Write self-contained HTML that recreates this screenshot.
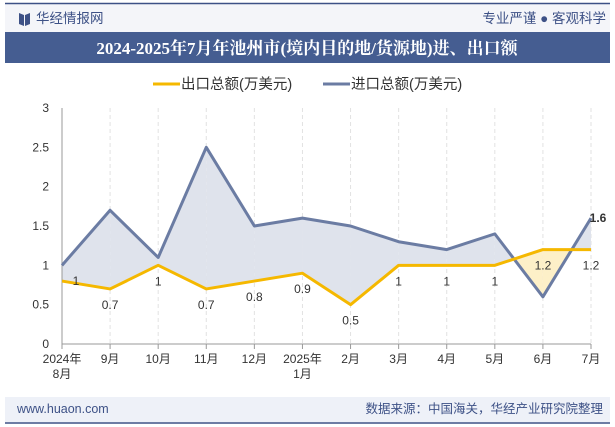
<!DOCTYPE html>
<html><head><meta charset="utf-8"><style>
body{margin:0;width:615px;height:427px;overflow:hidden;background:#fff;font-family:"Liberation Sans","Noto Sans CJK SC",sans-serif;}
</style></head><body>
<svg id="c" width="615" height="427" xmlns="http://www.w3.org/2000/svg" style="position:absolute;left:0;top:0">
<rect x="0" y="0" width="615" height="427" fill="#fff"/>
<rect x="5" y="4" width="605" height="28" fill="#f4f5f9"/>
<line x1="5" y1="3.5" x2="610" y2="3.5" stroke="#3d5186" stroke-width="1.5"/>
<g><polygon points="19,13 24,15 24,26 19,24" fill="#3d5186"/><polygon points="25,15 30,13 30,24 25,26" fill="#3d5186"/></g>
<text x="36" y="23" font-size="13.5" fill="#3d5186">华经情报网</text>
<text x="606" y="23" font-size="13.5" fill="#3d5186" text-anchor="end">专业严谨 ● 客观科学</text>
<rect x="5" y="32" width="605" height="31" fill="#455d91"/>
<text x="307" y="54" font-size="17" font-weight="bold" fill="#fff" text-anchor="middle" font-family="'Liberation Serif','Noto Serif CJK SC',serif">2024-2025年7月年池州市(境内目的地/货源地)进、出口额</text>
<g>
<line x1="153" y1="84" x2="180" y2="84" stroke="#f5b800" stroke-width="3"/>
<text x="181" y="89" font-size="14.5" fill="#333">出口总额(万美元)</text>
<line x1="323" y1="84" x2="350" y2="84" stroke="#6b7ca3" stroke-width="3"/>
<text x="351" y="89" font-size="14.5" fill="#333">进口总额(万美元)</text>
</g>
<g id="plot"></g>
<rect x="5" y="397" width="605" height="25" fill="#eef1f8"/>
<line x1="5" y1="423" x2="610" y2="423" stroke="#3d5186" stroke-width="1.5"/>
<text x="17" y="413" font-size="12.5" fill="#3d5186">www.huaon.com</text>
<text x="603" y="413" font-size="12.5" fill="#3d5186" text-anchor="end">数据来源：中国海关，华经产业研究院整理</text>
</svg>
<script>
const categories=["2024年\n8月","9月","10月","11月","12月","2025年\n1月","2月","3月","4月","5月","6月","7月"];
const exportVals=[0.8,0.7,1,0.7,0.8,0.9,0.5,1,1,1,1.2,1.2];
const importVals=[1,1.7,1.1,2.5,1.5,1.6,1.5,1.3,1.2,1.4,0.6,1.6];
const exportLabels=["1","0.7","1","0.7","0.8","0.9","0.5","1","1","1","1.2","1.2"];
const yTicks=[0,0.5,1,1.5,2,2.5,3];
const NS="http://www.w3.org/2000/svg";
const g=document.getElementById('plot');
const X0=62,X1=591,Y0=344,Y3=108;
const xs=i=>X0+(X1-X0)*i/(categories.length-1);
const ys=v=>Y0-(Y0-Y3)*v/3;
function mk(t,a){const e=document.createElementNS(NS,t);for(const k in a)e.setAttribute(k,a[k]);g.appendChild(e);return e;}
yTicks.forEach(t=>{const e=mk('text',{x:49,y:ys(t)+4,'font-size':12,fill:'#333','text-anchor':'end'});e.textContent=t;

});
categories.forEach((c,i)=>{const l=mk('line',{x1:xs(i),y1:Y3,x2:xs(i),y2:Y0,stroke:'#e2e2e2','stroke-dasharray':'4,3'});


const tk=mk('line',{x1:xs(i),y1:Y0,x2:xs(i),y2:Y0+5,stroke:'#999'});


c.split('\n').forEach((p,j)=>{const e=mk('text',{x:xs(i),y:Y0+19+j*15,'font-size':12,fill:'#333','text-anchor':'middle'});e.textContent=p;

});});
for(let i=0;i<categories.length-1;i++){
 const a1=exportVals[i],a2=exportVals[i+1],b1=importVals[i],b2=importVals[i+1];
 const d1=b1-a1,d2=b2-a2;
 const seg=(xa,xb,ea,eb,ia,ib,col)=>{const p=mk('polygon',{points:`${xa},${ys(ia)} ${xb},${ys(ib)} ${xb},${ys(eb)} ${xa},${ys(ea)}`,fill:col});
  
  };
 const x1=xs(i),x2=xs(i+1);
 if(d1*d2<0){const t=d1/(d1-d2);const xm=x1+(x2-x1)*t,vm=a1+(a2-a1)*t;
  seg(x1,xm,a1,vm,b1,vm,d1>0?'#dfe3ec':'#fdf0c8');seg(xm,x2,vm,a2,vm,b2,d2>0?'#dfe3ec':'#fdf0c8');}
 else seg(x1,x2,a1,a2,b1,b2,(d1+d2)>=0?'#dfe3ec':'#fdf0c8');
}
const ax=mk('line',{x1:X0,y1:Y3,x2:X0,y2:Y0,stroke:'#999'});


const bx=mk('line',{x1:X0,y1:Y0,x2:X1,y2:Y0,stroke:'#999'});


const il=mk('polyline',{points:importVals.map((v,i)=>xs(i)+','+ys(v)).join(' '),fill:'none',stroke:'#6b7ca3','stroke-width':3,'stroke-linejoin':'round'});


const el=mk('polyline',{points:exportVals.map((v,i)=>xs(i)+','+ys(v)).join(' '),fill:'none',stroke:'#f5b800','stroke-width':3,'stroke-linejoin':'round'});


exportLabels.forEach((s,i)=>{const e=mk('text',{x:xs(i)+(i==0?14:0),y:ys(exportVals[i])+(i==0?4:20),'font-size':12,fill:'#333','text-anchor':'middle'});e.textContent=s;

});
const n=importVals.length-1;
const lt=mk('text',{x:xs(n)+7,y:ys(importVals[n])+4,'font-size':12,'font-weight':'bold',fill:'#333','text-anchor':'middle'});lt.textContent=importVals[n];


</script>
</body></html>
